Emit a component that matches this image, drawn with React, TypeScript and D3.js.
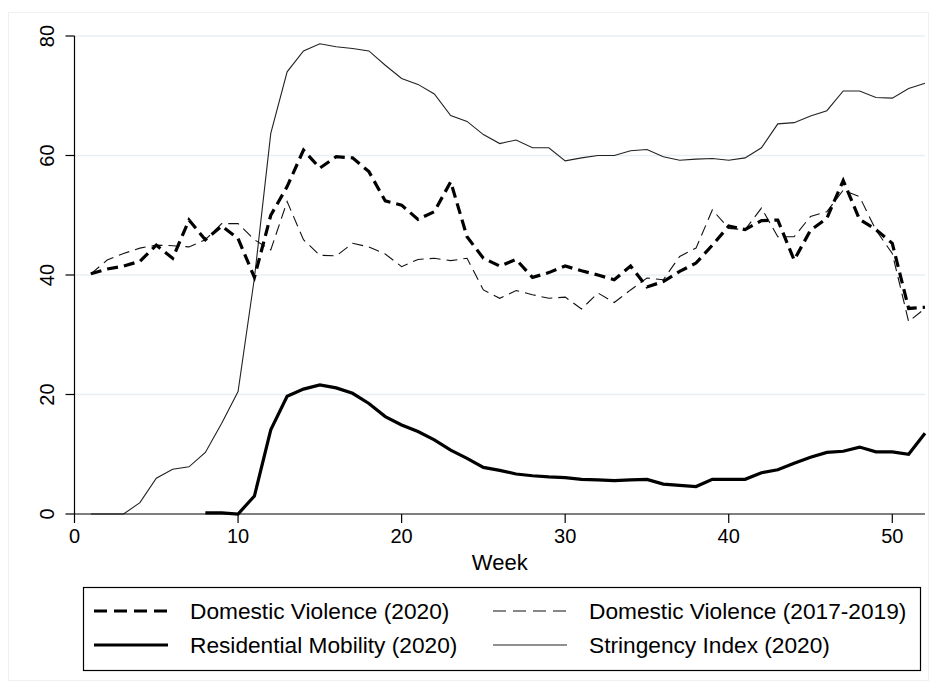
import React, { useEffect, useRef } from 'react';
import * as d3 from 'd3';

const weeks = d3.range(1, 53);

// Domestic violence 2020 (weekly index)
const dv2020 = [
  40.2, 41.0, 41.5, 42.3, 45.0, 42.8, 49.2, 45.9, 48.2, 46.1,
  39.6, 50.0, 54.8, 60.9, 57.9, 59.8, 59.6, 57.3, 52.4, 51.7,
  49.3, 50.6, 55.6, 46.4, 42.8, 41.5, 42.6, 39.6, 40.4, 41.5,
  40.7, 40.0, 39.2, 41.5, 38.0, 38.9, 40.6, 42.0, 45.0, 48.2,
  47.6, 49.1, 49.2, 42.5, 47.5, 49.5, 55.8, 49.3, 47.6, 45.3,
  34.4, 34.6,
];

// Domestic violence 2017-2019 average
const dv1719 = [
  40.2, 42.5, 43.6, 44.5, 45.0, 44.9, 44.7, 45.9, 48.6, 48.6,
  45.9, 44.2, 52.3, 45.9, 43.3, 43.2, 45.3, 44.7, 43.5, 41.4,
  42.6, 42.8, 42.4, 42.8, 37.5, 36.1, 37.4, 36.7, 36.1, 36.3,
  34.3, 37.0, 35.4, 37.5, 39.5, 39.2, 43.1, 44.5, 50.9, 47.8,
  47.6, 51.2, 46.4, 46.4, 49.8, 50.6, 54.2, 53.1, 47.5, 43.6,
  32.2, 34.4,
];

// Residential mobility 2020 (no data before week 8)
const mobility = [
  null, null, null, null, null, null, null, 0.2, 0.2, 0.0,
  3.0, 14.1, 19.7, 20.9, 21.6, 21.1, 20.2, 18.5, 16.3, 14.9,
  13.8, 12.4, 10.7, 9.3, 7.8, 7.3, 6.7, 6.4, 6.2, 6.1,
  5.8, 5.7, 5.6, 5.7, 5.8, 5.0, 4.8, 4.6, 5.8, 5.8,
  5.8, 6.9, 7.4, 8.5, 9.5, 10.3, 10.5, 11.2, 10.4, 10.4,
  10.0, 13.5,
];

// Stringency index 2020
const stringency = [
  0.0, 0.0, 0.0, 1.9, 6.0, 7.5, 7.9, 10.3, 15.2, 20.5,
  39.5, 63.7, 74.0, 77.5, 78.7, 78.2, 77.9, 77.5, 75.1, 72.9,
  71.9, 70.3, 66.7, 65.7, 63.5, 62.0, 62.6, 61.3, 61.3, 59.1,
  59.6, 60.0, 60.0, 60.8, 61.0, 59.8, 59.2, 59.4, 59.5, 59.2,
  59.6, 61.3, 65.3, 65.5, 66.6, 67.5, 70.8, 70.8, 69.7, 69.6,
  71.2, 72.1,
];

const xTicks = [0, 10, 20, 30, 40, 50];
const yTicks = [0, 20, 40, 60, 80];

const series = [
  { name: 'Domestic Violence (2020)', values: dv2020, width: 3.2, dash: '11,6', color: '#000' },
  { name: 'Domestic Violence (2017-2019)', values: dv1719, width: 1.1, dash: '11,6', color: '#111' },
  { name: 'Residential Mobility (2020)', values: mobility, width: 3.2, dash: null, color: '#000' },
  { name: 'Stringency Index (2020)', values: stringency, width: 1.1, dash: null, color: '#222' },
];

const W = 936;
const H = 687;
const FONT = '"Liberation Sans", Arial, Helvetica, sans-serif';

export default function App() {
  const svgRef = useRef<SVGSVGElement | null>(null);

  useEffect(() => {
    const svg = d3.select(svgRef.current);
    svg.selectAll('*').remove();

    const x = d3.scaleLinear().domain([0, 52]).range([74.5, 925]);
    const y = d3.scaleLinear().domain([0, 80]).range([514, 36]);

    svg.append('rect').attr('width', W).attr('height', H).attr('fill', '#fff');
    // faint outer frame
    svg.append('rect')
      .attr('x', 8.5).attr('y', 12.5).attr('width', 920).attr('height', 668)
      .attr('fill', 'none').attr('stroke', '#eef1f1').attr('stroke-width', 1);

    // gridlines
    svg.append('g')
      .selectAll('line')
      .data(yTicks.filter(t => t > 0))
      .enter()
      .append('line')
      .attr('x1', x(0)).attr('x2', x(52))
      .attr('y1', d => y(d)).attr('y2', d => y(d))
      .attr('stroke', '#e8eff3').attr('stroke-width', 1.6);

    // series lines
    const line = d3.line<number | null>()
      .defined(d => d !== null)
      .x((d, i) => x(weeks[i]))
      .y(d => y(d as number));

    const drawOrder = [3, 1, 0, 2];
    drawOrder.forEach(k => {
      const s = series[k];
      svg.append('path')
        .datum(s.values)
        .attr('d', line)
        .attr('fill', 'none')
        .attr('stroke', s.color)
        .attr('stroke-width', s.width)
        .attr('stroke-linejoin', 'miter')
        .attr('stroke-dasharray', s.dash);
    });

    // x axis
    const xAxis = svg.append('g').attr('transform', `translate(0,${y(0)})`);
    xAxis.append('line')
      .attr('x1', x(0)).attr('x2', x(52))
      .attr('stroke', '#000').attr('stroke-width', 1.2);
    xTicks.forEach(t => {
      xAxis.append('line')
        .attr('x1', x(t)).attr('x2', x(t)).attr('y1', 0).attr('y2', 9)
        .attr('stroke', '#000').attr('stroke-width', 1.2);
      xAxis.append('text')
        .attr('x', x(t)).attr('y', 29)
        .attr('text-anchor', 'middle')
        .attr('font-family', FONT).attr('font-size', 20)
        .text(t);
    });
    svg.append('text')
      .attr('x', (x(0) + x(52)) / 2).attr('y', 570)
      .attr('text-anchor', 'middle')
      .attr('font-family', FONT).attr('font-size', 22)
      .text('Week');

    // y axis, labels turned to read upward
    const yAxis = svg.append('g').attr('transform', `translate(${x(0)},0)`);
    yAxis.append('line')
      .attr('y1', y(0)).attr('y2', y(80))
      .attr('stroke', '#000').attr('stroke-width', 1.2);
    yTicks.forEach(t => {
      yAxis.append('line')
        .attr('x1', -9).attr('x2', 0).attr('y1', y(t)).attr('y2', y(t))
        .attr('stroke', '#000').attr('stroke-width', 1.2);
      yAxis.append('text')
        .attr('transform', `translate(-21,${y(t)}) rotate(-90)`)
        .attr('text-anchor', 'middle')
        .attr('font-family', FONT).attr('font-size', 20)
        .text(t);
    });

    // legend
    const lg = svg.append('g');
    lg.append('rect')
      .attr('x', 83.5).attr('y', 587.5).attr('width', 837).attr('height', 83)
      .attr('fill', '#fff').attr('stroke', '#000').attr('stroke-width', 1.2);
    const cols = [94, 493];
    const rows = [611, 645];
    series.forEach((s, i) => {
      const cx = cols[i % 2];
      const cy = rows[Math.floor(i / 2)];
      lg.append('line')
        .attr('x1', cx).attr('x2', cx + 74).attr('y1', cy).attr('y2', cy)
        .attr('stroke', s.color)
        .attr('stroke-width', s.width)
        .attr('stroke-dasharray', s.dash ? '13,7' : null);
      lg.append('text')
        .attr('x', cx + 96).attr('y', cy + 8)
        .attr('font-family', FONT).attr('font-size', 22.7)
        .text(s.name);
    });
  }, []);

  return (
    <svg
      ref={svgRef}
      width={W}
      height={H}
      style={{ position: 'absolute', left: 0, top: 0, display: 'block' }}
    />
  );
}
